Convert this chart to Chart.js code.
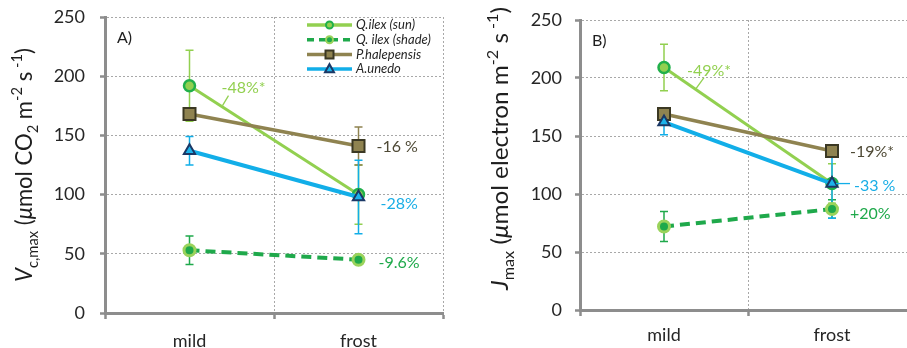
<!DOCTYPE html>
<html>
<head>
<meta charset="utf-8">
<script src="https://cdn.jsdelivr.net/npm/chart.js@4.4.1/dist/chart.umd.min.js"></script>
<style>
  html, body { margin: 0; padding: 0; width: 907px; height: 348px; overflow: hidden; background: #fff; }
  #panelA { position: absolute; left: 0; top: 0; width: 455px; height: 348px; }
  #panelB { position: absolute; left: 455px; top: 0; width: 470px; height: 348px; }
</style>
</head>
<body>
<div id="panelA"><canvas id="vcmaxChart"></canvas></div>
<div id="panelB"><canvas id="jmaxChart"></canvas></div>
<script>
// ---- data ----
const treatments = ['mild', 'frost'];
const yTickValues = [0, 50, 100, 150, 200, 250];
const seriesNames = ['Q.ilex (sun)', 'Q. ilex (shade)', 'P.halepensis', 'A.unedo'];

// Panel A: Vc,max (µmol CO2 m-2 s-1), means and error bars
const vcmaxSun = [192, 100];
const vcmaxSunErr = [30, 25];
const vcmaxShade = [53, 45];
const vcmaxShadeErr = [12, 3];
const vcmaxPinus = [168, 141];
const vcmaxPinusErr = [4, 16];
const vcmaxArbutus = [137, 98];
const vcmaxArbutusErr = [12, 31];
const vcmaxChange = ['-48%*', '-9.6%', '-16 %', '-28%'];

// Panel B: Jmax (µmol electron m-2 s-1), means and error bars
const jmaxSun = [209, 109];
const jmaxSunErr = [20, 17];
const jmaxShade = [72, 87];
const jmaxShadeErr = [13, 8];
const jmaxPinus = [169, 137];
const jmaxPinusErr = [4, 4];
const jmaxArbutus = [162, 109];
const jmaxArbutusErr = [11, 30];
const jmaxChange = ['-49%*', '+20%', '-19%*', '-33 %'];

// ---- styling ----
const FONT = 'Lato, "Open Sans", sans-serif';
const AXIS_GREY = '#8d8d8d';
const GRID_GREY = '#a8a8a8';

const seriesStyle = [
  { line: '#92d050', width: 3,   dash: [],      shape: 'circle',   radius: 5.5, fill: '#92d050', edge: '#21b04b', edgeW: 2.5, text: '#92d050', order: 3 },
  { line: '#1fa94b', width: 4,   dash: [10, 6], shape: 'circle',   radius: 5.5, fill: '#1fa94b', edge: '#9ad35b', edgeW: 3,   text: '#1fa94b', order: 2 },
  { line: '#8f8350', width: 3.5, dash: [],      shape: 'rect',     radius: 8.5, fill: '#8f8350', edge: '#3b3823', edgeW: 2,   text: '#4f4a36', order: 1 },
  { line: '#12aee8', width: 4,   dash: [],      shape: 'triangle', radius: 6.5, fill: '#1db3ea', edge: '#1b3866', edgeW: 2,   text: '#1aaee6', order: 0 }
];

// per-panel layout and decoration settings, keyed by canvas id
const panelConfig = {
  vcmaxChart: {
    padTop: 17, padRight: 12, xHeight: 35, yWidth: 105, xPad: 11, yPad: 15,
    tag: 'A)', legend: true, titleSize: 24, titleLength: 234, titleX: 32, titleDy: 0,
    title: [
      { text: 'V', italic: true },
      { text: 'c,max', shift: 'sub' },
      { text: ' (' },
      { text: 'μ', italic: true },
      { text: 'mol CO' },
      { text: '2', shift: 'sub' },
      { text: ' m' },
      { text: '-2', shift: 'sup' },
      { text: ' s' },
      { text: ' -1', shift: 'sup' },
      { text: ')' }
    ],
    labels: [
      { series: 0, index: 0, text: vcmaxChange[0], dx: 32, dy: 2, leader: [39, 10, 33, 20] },
      { series: 1, index: 1, text: vcmaxChange[1], dx: 20, dy: 3 },
      { series: 2, index: 1, text: vcmaxChange[2], dx: 18, dy: 1 },
      { series: 3, index: 1, text: vcmaxChange[3], dx: 22, dy: 7 }
    ]
  },
  jmaxChart: {
    padTop: 20, padRight: 9, xHeight: 38, yWidth: 125, xPad: 8, yPad: 13,
    tag: 'B)', legend: false, titleSize: 24, titleLength: 283, titleX: 53, titleDy: -16.5,
    title: [
      { text: 'J', italic: true },
      { text: 'max', shift: 'sub' },
      { text: ' (' },
      { text: 'μ', italic: true },
      { text: 'mol electron m' },
      { text: '-2', shift: 'sup' },
      { text: ' s' },
      { text: ' -1', shift: 'sup' },
      { text: ')' }
    ],
    labels: [
      { series: 0, index: 0, text: jmaxChange[0], dx: 23, dy: 3, leader: [40, 10, 32, 21] },
      { series: 1, index: 1, text: jmaxChange[1], dx: 18, dy: 5 },
      { series: 2, index: 1, text: jmaxChange[2], dx: 18, dy: 1 },
      { series: 3, index: 1, text: jmaxChange[3], dx: 22, dy: 2, leader: [4, 0, 18, 0] }
    ]
  }
};

function buildDatasets(values, errors) {
  return values.map((vals, i) => {
    const s = seriesStyle[i];
    return {
      label: seriesNames[i],
      data: vals,
      errorBars: errors[i],
      borderColor: s.line,
      borderWidth: s.width,
      borderDash: s.dash,
      pointStyle: s.shape,
      pointRadius: s.radius,
      pointBackgroundColor: s.fill,
      pointBorderColor: s.edge,
      pointBorderWidth: s.edgeW,
      tension: 0,
      fill: false,
      order: s.order
    };
  });
}

// vertical error bars with caps, drawn under the lines and markers
const errorBarPlugin = {
  id: 'errorBars',
  beforeDatasetsDraw(chart) {
    const { ctx, scales: { x, y } } = chart;
    chart.data.datasets.forEach((ds, i) => {
      if (!ds.errorBars) return;
      ds.data.forEach((v, j) => {
        const e = ds.errorBars[j];
        if (!e) return;
        const px = x.getPixelForValue(j);
        const top = y.getPixelForValue(v + e);
        const bot = y.getPixelForValue(v - e);
        ctx.save();
        ctx.strokeStyle = seriesStyle[i].line;
        ctx.lineWidth = 1.5;
        ctx.beginPath();
        ctx.moveTo(px, top); ctx.lineTo(px, bot);
        ctx.moveTo(px - 4, top); ctx.lineTo(px + 4, top);
        ctx.moveTo(px - 4, bot); ctx.lineTo(px + 4, bot);
        ctx.stroke();
        ctx.restore();
      });
    });
  }
};

// percentage-change labels placed next to a data point
const changeLabelPlugin = {
  id: 'changeLabels',
  afterDatasetsDraw(chart) {
    const cfg = panelConfig[chart.canvas.id];
    const { ctx, scales: { x, y } } = chart;
    cfg.labels.forEach(it => {
      const ds = chart.data.datasets[it.series];
      const px = x.getPixelForValue(it.index);
      const py = y.getPixelForValue(ds.data[it.index]);
      ctx.save();
      if (it.leader) {
        ctx.strokeStyle = seriesStyle[it.series].line;
        ctx.lineWidth = 1.3;
        ctx.beginPath();
        ctx.moveTo(px + it.leader[0], py + it.leader[1]);
        ctx.lineTo(px + it.leader[2], py + it.leader[3]);
        ctx.stroke();
      }
      ctx.fillStyle = seriesStyle[it.series].text;
      ctx.font = `16px ${FONT}`;
      ctx.textAlign = 'left';
      ctx.textBaseline = 'middle';
      ctx.fillText(it.text, px + it.dx, py + it.dy);
      ctx.restore();
    });
  }
};

// rotated y-axis title with italic symbol, subscripts and superscripts,
// plus the panel letter in the upper-left corner of the plot
const decorationPlugin = {
  id: 'panelDecor',
  afterDraw(chart) {
    const cfg = panelConfig[chart.canvas.id];
    const { ctx, chartArea } = chart;
    const base = cfg.titleSize;
    const small = Math.round(base * 0.68);
    const parts = cfg.title.map(p => {
      const size = p.shift ? small : base;
      const font = `${p.italic ? 'italic ' : ''}${size}px ${FONT}`;
      ctx.font = font;
      return { text: p.text, shift: p.shift, font, w: ctx.measureText(p.text).width };
    });
    const total = parts.reduce((s, p) => s + p.w, 0);
    const squeeze = cfg.titleLength / total;
    ctx.save();
    ctx.translate(cfg.titleX, (chartArea.top + chartArea.bottom) / 2 + cfg.titleDy);
    ctx.rotate(-Math.PI / 2);
    ctx.scale(squeeze, 1);
    ctx.fillStyle = '#1e1e1e';
    ctx.textBaseline = 'alphabetic';
    ctx.textAlign = 'left';
    let cx = -total / 2;
    parts.forEach(p => {
      ctx.font = p.font;
      const off = p.shift === 'sub' ? base * 0.26 : p.shift === 'sup' ? -base * 0.42 : 0;
      ctx.fillText(p.text, cx, off);
      cx += p.w;
    });
    ctx.restore();

    ctx.save();
    ctx.fillStyle = '#1e1e1e';
    ctx.font = `16px ${FONT}`;
    ctx.textBaseline = 'middle';
    ctx.textAlign = 'left';
    ctx.fillText(cfg.tag, chartArea.left + 12, chartArea.top + 21);
    ctx.restore();

    if (cfg.legend) drawInsideLegend(chart);
  }
};

// legend inside the plot: short line with the series marker in its middle
function drawMarker(ctx, shape, x, y, r, fill, edge, w) {
  ctx.save();
  ctx.fillStyle = fill; ctx.strokeStyle = edge; ctx.lineWidth = w; ctx.setLineDash([]);
  ctx.beginPath();
  if (shape === 'circle') {
    ctx.arc(x, y, r, 0, Math.PI * 2);
  } else if (shape === 'rect') {
    ctx.rect(x - r, y - r, 2 * r, 2 * r);
  } else {
    ctx.moveTo(x, y - r * 1.1);
    ctx.lineTo(x + r, y + r * 0.7);
    ctx.lineTo(x - r, y + r * 0.7);
    ctx.closePath();
  }
  ctx.fill(); ctx.stroke();
  ctx.restore();
}

function drawInsideLegend(chart) {
  const { ctx, chartArea } = chart;
  const x0 = chartArea.right - 136;
  const lineLen = 45;
  const sizes = [3.5, 3.5, 4, 4.5];
  chart.data.datasets.forEach((ds, i) => {
    const s = seriesStyle[i];
    const yy = chartArea.top + 8 + i * 14.7;
    ctx.save();
    ctx.strokeStyle = s.line;
    ctx.lineWidth = 3.5;
    ctx.setLineDash(s.dash.length ? [7, 5] : []);
    ctx.beginPath();
    ctx.moveTo(x0, yy); ctx.lineTo(x0 + lineLen, yy);
    ctx.stroke();
    ctx.restore();
    drawMarker(ctx, s.shape, x0 + lineLen / 2, yy, sizes[i], s.fill, s.edge, 2);
    ctx.save();
    ctx.fillStyle = '#262626';
    ctx.font = `italic 13px ${FONT}`;
    ctx.textBaseline = 'middle';
    ctx.textAlign = 'left';
    ctx.fillText(ds.label, x0 + lineLen + 4, yy);
    ctx.restore();
  });
}

function makeOptions(cfg) {
  return {
    responsive: true,
    maintainAspectRatio: false,
    animation: false,
    events: [],
    devicePixelRatio: 1,
    layout: { autoPadding: false, padding: { top: cfg.padTop, right: cfg.padRight, bottom: 0, left: 0 } },
    plugins: {
      legend: { display: false },
      tooltip: { enabled: false }
    },
    scales: {
      x: {
        type: 'category',
        labels: treatments,
        offset: true,
        grid: {
          offset: true,
          color: c => c.index === 0 ? 'rgba(0,0,0,0)' : GRID_GREY,
          lineWidth: 1,
          drawTicks: true,
          tickLength: 6,
          tickColor: AXIS_GREY,
          tickWidth: 2.5,
          tickBorderDash: []
        },
        border: { display: true, color: AXIS_GREY, width: 3, dash: [2, 2] },
        ticks: { font: { family: FONT, size: 18 }, color: '#262626', padding: cfg.xPad, maxRotation: 0 },
        afterFit(s) { s.height = cfg.xHeight; }
      },
      y: {
        min: 0,
        max: 250,
        afterBuildTicks(s) { s.ticks = yTickValues.map(v => ({ value: v })); },
        grid: {
          color: c => (c.tick && c.tick.value === 0) ? 'rgba(0,0,0,0)' : GRID_GREY,
          lineWidth: 1,
          tickLength: 5,
          tickColor: AXIS_GREY,
          tickWidth: 2.5,
          tickBorderDash: []
        },
        border: { display: true, color: AXIS_GREY, width: 3, dash: [2, 2] },
        // single-line labels: a tight line height keeps the plot top where the padding puts it
        ticks: { font: { family: FONT, size: 18, lineHeight: 0.2 }, color: '#262626', padding: cfg.yPad },
        afterFit(s) { s.width = cfg.yWidth; }
      }
    }
  };
}

const plugins = [errorBarPlugin, changeLabelPlugin, decorationPlugin];

new Chart(document.getElementById('vcmaxChart'), {
  type: 'line',
  data: {
    labels: treatments,
    datasets: buildDatasets(
      [vcmaxSun, vcmaxShade, vcmaxPinus, vcmaxArbutus],
      [vcmaxSunErr, vcmaxShadeErr, vcmaxPinusErr, vcmaxArbutusErr])
  },
  options: makeOptions(panelConfig.vcmaxChart),
  plugins
});

new Chart(document.getElementById('jmaxChart'), {
  type: 'line',
  data: {
    labels: treatments,
    datasets: buildDatasets(
      [jmaxSun, jmaxShade, jmaxPinus, jmaxArbutus],
      [jmaxSunErr, jmaxShadeErr, jmaxPinusErr, jmaxArbutusErr])
  },
  options: makeOptions(panelConfig.jmaxChart),
  plugins
});
</script>
</body>
</html>
